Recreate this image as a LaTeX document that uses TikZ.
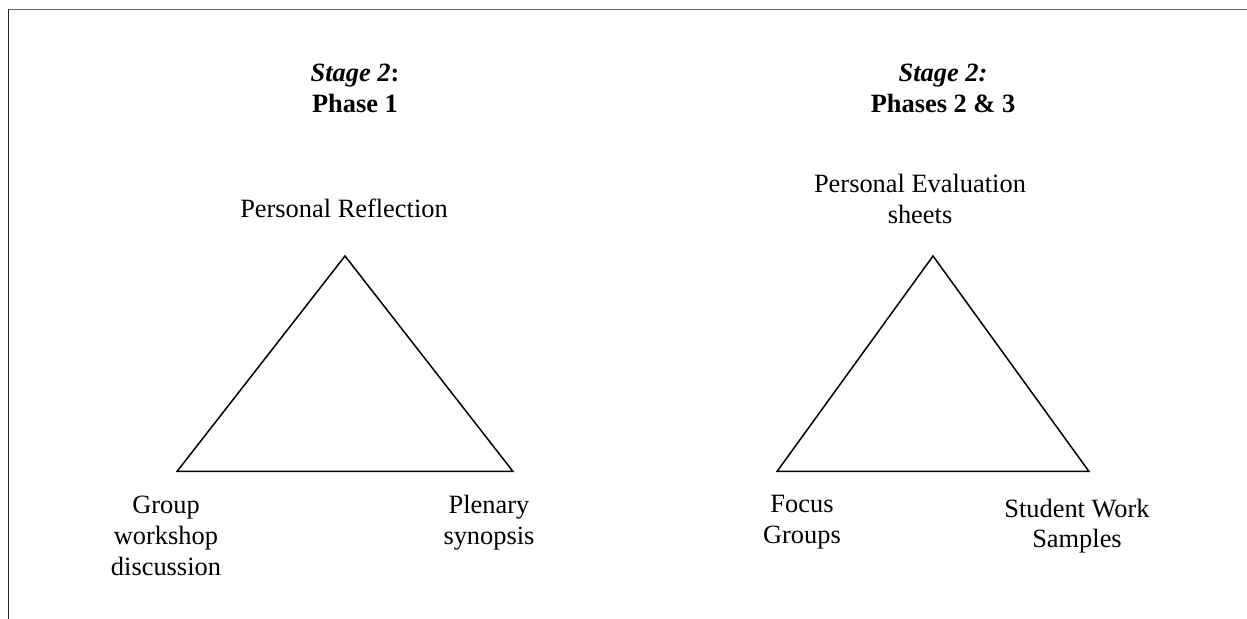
\documentclass[tikz,border=0pt]{standalone}
\usepackage{fontspec}
\setmainfont{Liberation Serif}
\begin{document}
\begin{tikzpicture}[x=0.5pt,y=-0.5pt,
  lbl/.style={anchor=base,align=center,inner sep=0pt,font=\fontsize{13.2}{15.5}\selectfont},
  tri/.style={line width=0.75pt,line join=miter},
  frame/.style={line width=0.9pt}]
\useasboundingbox (0,0) rectangle (1247,619);
% frame
\draw[frame,black!60] (8,9.5) -- (1247,9.5);
\draw[frame,black!85] (8.5,9.5) -- (8.5,619);
% titles (anchor = baseline of last line)
\node[lbl] (t1) at (355,113) {\textbf{\textit{Stage 2}:}\\\textbf{Phase 1}};
\node[lbl] (t2) at (943,113) {\textbf{\textit{Stage 2:}}\\\textbf{Phases 2 \& 3}};
% left triangle
\coordinate (a1) at (345,256);
\coordinate (b1) at (177,471.5);
\coordinate (c1) at (513,471.5);
\draw[tri] (a1) -- (b1) -- (c1) -- cycle;
% right triangle
\coordinate (a2) at (933,256);
\coordinate (b2) at (777,471.5);
\coordinate (c2) at (1089,471.5);
\draw[tri] (a2) -- (b2) -- (c2) -- cycle;
% labels
\node[lbl] (pr) at (344,218) {Personal Reflection};
\node[lbl] (gw) at (166,575) {Group\\workshop\\discussion};
\node[lbl] (ps) at (489,545) {Plenary\\synopsis};
\node[lbl] (pe) at (920,224) {Personal Evaluation\\sheets};
\node[lbl] (fg) at (802,544) {Focus\\Groups};
\node[lbl] (sw) at (1077,548) {Student Work\\Samples};
\end{tikzpicture}
\end{document}
